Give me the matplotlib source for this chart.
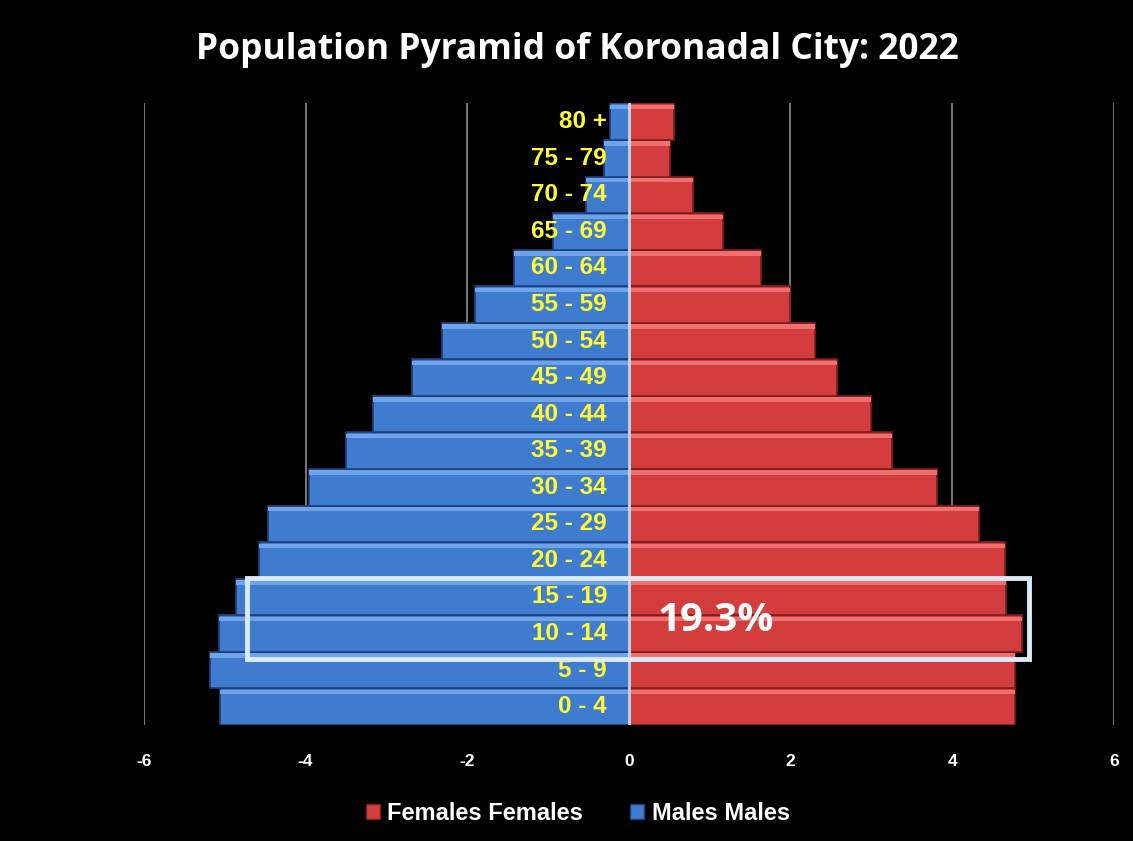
import matplotlib
matplotlib.use("Agg")
import matplotlib.pyplot as plt
from matplotlib.patches import Rectangle, Patch

# age groups, bottom to top
ages = ['0 - 4', '5 - 9', '10 - 14', '15 - 19', '20 - 24', '25 - 29', '30 - 34',
        '35 - 39', '40 - 44', '45 - 49', '50 - 54', '55 - 59', '60 - 64',
        '65 - 69', '70 - 74', '75 - 79', '80 +']
# percent of population
males = [5.06, 5.18, 5.07, 4.86, 4.57, 4.46, 3.96, 3.50, 3.16, 2.68, 2.31,
         1.90, 1.42, 0.94, 0.53, 0.31, 0.23]
females = [4.78, 4.78, 4.87, 4.67, 4.66, 4.33, 3.81, 3.26, 3.00, 2.58, 2.30,
           1.99, 1.63, 1.17, 0.80, 0.51, 0.56]
xticks = [-6, -4, -2, 0, 2, 4, 6]
note = '19.3%'

blue = '#3f7bcf'
red = '#d33d3d'

fig = plt.figure(figsize=(11.33, 8.41), dpi=100)
fig.patch.set_facecolor('black')
ax = fig.add_axes([0.127, 0.138, 0.856, 0.739])
ax.set_facecolor('black')

y = list(range(len(ages)))
ax.barh(y, [-m for m in males], height=1.0, color=blue, edgecolor='#1d3f75', linewidth=1.2, zorder=3)
ax.barh(y, females, height=1.0, color=red, edgecolor='#7a1e1e', linewidth=1.2, zorder=3)
# highlight on top of each bar for the bevel look
ax.barh([v + 0.4 for v in y], [-m for m in males], height=0.12, color='#6fa3ea', linewidth=0, zorder=4)
ax.barh([v + 0.4 for v in y], females, height=0.12, color='#f07070', linewidth=0, zorder=4)

ax.set_xlim(-6, 6)
ax.set_ylim(-0.5, len(ages) - 0.5)
for xv in xticks:
    if xv == 0:
        ax.axvline(0, color='#c8d8e8', linewidth=2, zorder=5)
    else:
        ax.axvline(xv, color='#8c8c8c', linewidth=1.2, zorder=1)

for i, a in enumerate(ages):
    ax.text(-0.27, i, a, color='#ffff33', fontsize=17.5, fontweight='bold',
            family='Liberation Sans', ha='right', va='center', zorder=6)

ax.set_xticks(xticks)
ax.set_xticklabels([str(v) for v in xticks], color='white', fontsize=12.5,
                   fontweight='bold', family='Liberation Sans')
ax.tick_params(axis='x', length=0, pad=21)
ax.set_yticks([])
for s in ax.spines.values():
    s.set_visible(False)

# highlight box around 10-19
ax.add_patch(Rectangle((-4.73, 1.3), 9.68, 2.22, fill=False, edgecolor='#dbeaf8',
                       linewidth=3.5, zorder=7, clip_on=False))
ax.text(0.36, 2.37, note, color='white', fontsize=29, fontweight='bold',
        family='Open Sans', ha='left', va='center', zorder=8)

fig.text(0.51, 0.941, 'Population Pyramid of Koronadal City: 2022', color='white',
         fontsize=25.5, fontweight='bold', family='Open Sans', ha='center', va='center')

handles = [Patch(facecolor=red, edgecolor='#7a1e1e', label='Females Females'),
           Patch(facecolor=blue, edgecolor='#1d3f75', label='Males Males')]
leg = fig.legend(handles=handles, loc='center', bbox_to_anchor=(0.51, 0.033), ncol=2,
                 frameon=False, handlelength=0.6, handleheight=0.6, columnspacing=2.0,
                 handletextpad=0.3, prop={'family': 'Liberation Sans', 'weight': 'bold', 'size': 17})
for t in leg.get_texts():
    t.set_color('white')

fig.savefig('out.png', dpi=100, facecolor='black')
